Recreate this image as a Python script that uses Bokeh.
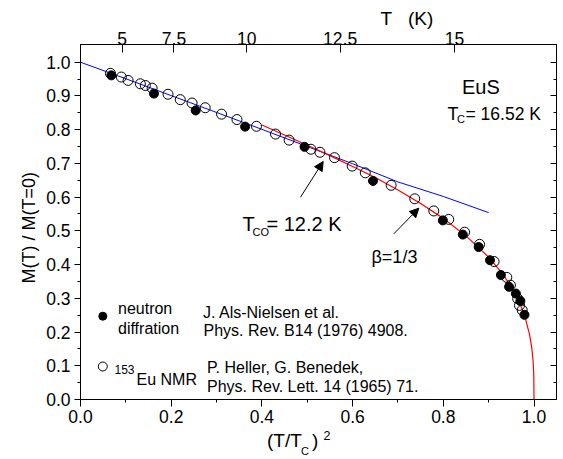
from bokeh.plotting import figure
from bokeh.layouts import column
from bokeh.models import (LinearAxis, FixedTicker, Range1d, Label, Arrow, Title,
                          NormalHead, PrintfTickFormatter)
from bokeh.embed import file_html
from bokeh.resources import INLINE

# ---------------- data ----------------
Tc = 16.52
top_T_ticks = [5, 7.5, 10, 12.5, 15]
top_T_labels = ["5", "7.5", "10", "12.5", "15"]

bottom_ticks = [0.0, 0.2, 0.4, 0.6, 0.8, 1.0]
bottom_minor = [0.1, 0.3, 0.5, 0.7, 0.9]
left_ticks = [0.0, 0.1, 0.2, 0.3, 0.4, 0.5, 0.6, 0.7, 0.8, 0.9, 1.0]
left_minor = [0.05, 0.15, 0.25, 0.35, 0.45, 0.55, 0.65, 0.75, 0.85, 0.95]

neutron_x = [0.068, 0.162, 0.254, 0.363, 0.494, 0.645, 0.799, 0.843, 0.878,
             0.903, 0.927, 0.945, 0.960, 0.970, 0.979]
neutron_y = [0.961, 0.907, 0.857, 0.809, 0.749, 0.648, 0.531, 0.489, 0.452,
             0.413, 0.369, 0.334, 0.314, 0.292, 0.251]

nmr_x = [0.066, 0.090, 0.105, 0.132, 0.143, 0.158, 0.193, 0.220, 0.246, 0.275,
         0.311, 0.345, 0.388, 0.430, 0.460, 0.508, 0.528, 0.560, 0.599, 0.628,
         0.685, 0.737, 0.779, 0.812, 0.847, 0.880, 0.912, 0.940, 0.948, 0.964,
         0.968, 0.974]
nmr_y = [0.967, 0.956, 0.946, 0.936, 0.931, 0.923, 0.905, 0.889, 0.879, 0.865,
         0.846, 0.830, 0.810, 0.787, 0.769, 0.742, 0.733, 0.717, 0.692, 0.672,
         0.635, 0.595, 0.559, 0.534, 0.496, 0.460, 0.409, 0.362, 0.339, 0.299,
         0.279, 0.265]

spinwave_x = [0.0, 0.1, 0.2, 0.3, 0.4, 0.5, 0.6, 0.7, 0.8, 0.9]
spinwave_y = [1.000, 0.951, 0.901, 0.851, 0.801, 0.750, 0.699, 0.645, 0.602, 0.554]

critical_x = [0.40, 0.45, 0.50, 0.55, 0.60, 0.65, 0.70, 0.75, 0.80, 0.85, 0.90,
              0.93, 0.95, 0.97, 0.98, 0.99, 0.995, 0.998, 0.9995, 1.0]
critical_y = [0.814, 0.784, 0.754, 0.723, 0.691, 0.658, 0.621, 0.581, 0.537,
              0.485, 0.422, 0.374, 0.334, 0.281, 0.245, 0.194, 0.154, 0.114,
              0.072, 0.0]

# ---------------- main figure ----------------
FONT = "Liberation Sans"
W = 563
H_MAIN, H_XLAB = 429, 30
XMAX, YMAX = 1.0496, 1.0525

p = figure(width=W, height=H_MAIN, x_range=Range1d(0, XMAX), y_range=Range1d(0, YMAX),
           output_backend="svg", toolbar_location=None, title=None)
p.min_border_left = 80
p.min_border_right = 7
p.min_border_top = 44
p.min_border_bottom = 30
p.grid.visible = False
p.outline_line_color = "black"
p.outline_line_width = 1
p.background_fill_color = "white"
p.border_fill_color = "white"


def style_axis(ax):
    ax.axis_line_color = "black"
    ax.major_tick_line_color = "black"
    ax.minor_tick_line_color = "black"
    ax.major_label_text_color = "black"
    ax.major_label_text_font = FONT
    ax.major_label_text_font_size = "17.5px"


# bottom axis
xb = p.xaxis[0]
style_axis(xb)
xb.ticker = FixedTicker(ticks=bottom_ticks, minor_ticks=bottom_minor)
xb.formatter = PrintfTickFormatter(format="%.1f")
xb.major_tick_out = 7
xb.major_tick_in = 0
xb.minor_tick_out = 3
xb.minor_tick_in = 0
xb.major_label_standoff = 3

# left axis
yl = p.yaxis[0]
style_axis(yl)
yl.ticker = FixedTicker(ticks=left_ticks, minor_ticks=left_minor)
yl.formatter = PrintfTickFormatter(format="%.1f")
yl.major_tick_out = 6
yl.major_tick_in = 0
yl.minor_tick_out = 3
yl.minor_tick_in = 0
yl.major_label_standoff = 4

# right axis (ticks only, inward, labels not drawn)
yr = LinearAxis(ticker=FixedTicker(ticks=left_ticks, minor_ticks=left_minor))
style_axis(yr)
yr.major_tick_out = 0
yr.major_tick_in = 6
yr.minor_tick_out = 0
yr.minor_tick_in = 3
yr.major_label_text_font_size = "1px"
yr.major_label_text_color = None
yr.major_label_standoff = 0
p.add_layout(yr, "right")

# top axis: temperature T, placed at (T/Tc)^2
top_pos = [round((t / Tc) ** 2, 6) for t in top_T_ticks]
xt = LinearAxis(ticker=FixedTicker(ticks=top_pos, minor_ticks=[]))
style_axis(xt)
xt.major_label_overrides = {pos: lab for pos, lab in zip(top_pos, top_T_labels)}
xt.major_tick_out = 0
xt.major_tick_in = 8
xt.minor_tick_out = 0
xt.minor_tick_in = 0
xt.major_label_standoff = 0
p.add_layout(xt, "above")

# axis titles without sub/superscripts, as side-panel titles
p.add_layout(Title(text="T\u00a0\u00a0\u00a0(K)", align="left", offset=300, standoff=0,
                   text_font=FONT, text_font_size="19px", text_font_style="normal",
                   text_color="black"), "above")
p.add_layout(Title(text="M(T) / M(T=0)", align="left", offset=116, standoff=10,
                   text_font=FONT, text_font_size="18px", text_font_style="normal",
                   text_color="black"), "left")

# ---------------- glyphs ----------------
p.line(spinwave_x, spinwave_y, line_color="#0000ff", line_width=1)
p.line(critical_x, critical_y, line_color="#ff0000", line_width=1.2)
p.scatter(nmr_x, nmr_y, marker="circle", size=10, fill_color=None,
          line_color="black", line_width=1)
p.scatter(neutron_x, neutron_y, marker="circle", size=9, fill_color="black",
          line_color="black")


# ---------------- annotations (page-pixel helpers) ----------------
def X(px):
    return (px - 80) / 453.5


def Y(py):
    return (399 - py) / 337.3


def txt(fig, xf, yf, px, py, s, size, align="left", baseline="alphabetic"):
    fig.add_layout(Label(x=xf(px), y=yf(py), text=s, text_font=FONT,
                         text_font_size=size, text_color="black",
                         text_align=align, text_baseline=baseline))


def t(px, py, s, size):
    txt(p, X, Y, px, py, s, size)


# sample info
t(461.5, 86, "EuS", "20px")
t(447, 113.3, "T", "18px")
t(456.5, 118.5, "C", "11px")
t(465, 113.3, "= 16.52 K", "17.5px")

# crossover and exponent
t(242, 223.3, "T", "20px")
t(252, 231.7, "CO", "11px")
t(266, 223.3, "= 12.2 K", "20px")
t(371, 256, "\u03b2=1/3", "18px")

p.add_layout(Arrow(end=NormalHead(size=9, fill_color="black", line_color="black"),
                   x_start=X(300), y_start=Y(196.7), x_end=X(322.7), y_end=Y(161),
                   line_color="black", line_width=1))
p.add_layout(Arrow(end=NormalHead(size=9, fill_color="black", line_color="black"),
                   x_start=X(393.3), y_start=Y(233.3), x_end=X(418.3), y_end=Y(207.7),
                   line_color="black", line_width=1))

# legend
p.scatter([X(102.3)], [Y(315.7)], marker="circle", size=8, fill_color="black",
          line_color="black")
p.scatter([X(102.3)], [Y(366)], marker="circle", size=9, fill_color=None,
          line_color="black")
t(117.5, 308.3, "neutron", "16px")
t(117.5, 328.3, "diffration", "16px")
t(202.5, 311.7, "J. Als-Nielsen et al.", "16px")
t(203, 330, "Phys. Rev. B14 (1976) 4908.", "16px")
t(114, 369, "153", "12px")
t(136, 379.3, "Eu NMR", "16px")
t(206.5, 367.3, "P. Heller, G. Benedek,", "16px")
t(206.5, 386, "Phys. Rev. Lett. 14 (1965) 71.", "16px")

# ---------------- x-axis title strip (with sub/superscript) ----------------
# the column aligns this strip's frame with the main frame, so it shares p.x_range
q = figure(width=W, height=H_XLAB, x_range=p.x_range,
           y_range=Range1d(H_MAIN + H_XLAB, H_MAIN),
           output_backend="svg", toolbar_location=None, title=None,
           x_axis_location=None, y_axis_location=None)
q.min_border = 0
q.min_border_left = 80
q.min_border_right = 7
q.min_border_top = 0
q.min_border_bottom = 0
q.grid.visible = False
q.outline_line_color = None
q.background_fill_color = "white"
q.border_fill_color = "white"


def ident(v):
    return v


def tq(px, py, s, size):
    txt(q, X, ident, px, py, s, size)


tq(266.5, 440, "(T/T", "19px")
tq(300.5, 450.5, "C", "11px")
tq(311.5, 440, ")", "19px")
tq(323, 435, "2", "12.5px")

layout = column(p, q, spacing=0)
open("out.html", "w").write(file_html(layout, INLINE))
